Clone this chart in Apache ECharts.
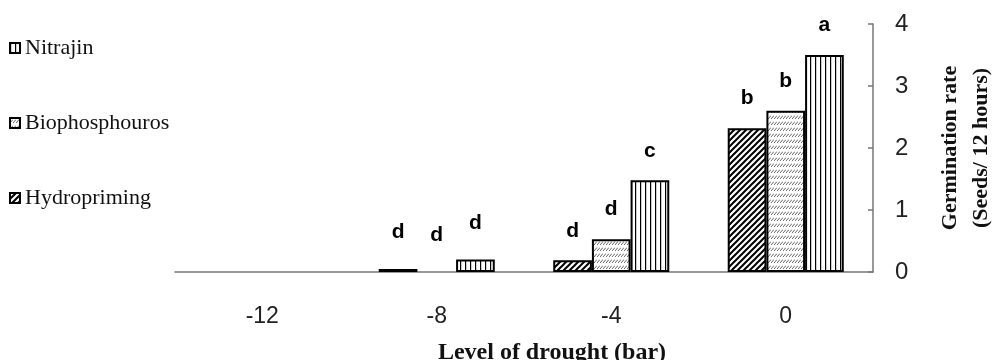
<!DOCTYPE html>
<html>
<head>
<meta charset="utf-8">
<script src="https://cdn.jsdelivr.net/npm/echarts@6/dist/echarts.min.js"></script>
<style>
  html, body { margin: 0; padding: 0; background: #fff; }
  #chart { width: 992px; height: 360px; }
</style>
</head>
<body>
<div id="chart"></div>
<script>
// Drought levels (bar) on the category axis
const droughtLevels = ['-12', '-8', '-4', '0'];

// Germination rate (seeds / 12 hours) per treatment
const hydropriming = [0, 0.05, 0.19, 2.32];
const biophosphouros = [0, 0, 0.53, 2.6];
const nitrajin = [0, 0.2, 1.48, 3.5];

// Mean-separation letters shown above each bar
const hydroLetters = ['', 'd', 'd', 'b'];
const bioLetters = ['', 'd', 'd', 'b'];
const nitrajinLetters = ['', 'd', 'c', 'a'];

// Y axis ticks
const yTicks = [0, 1, 2, 3, 4];

// ---- hatch fills ----
function makeTile(w, h, draw) {
  const c = document.createElement('canvas');
  c.width = w; c.height = h;
  const ctx = c.getContext('2d');
  ctx.fillStyle = '#ffffff';
  ctx.fillRect(0, 0, w, h);
  draw(ctx);
  return c;
}
const verticalLines = makeTile(5, 5, ctx => {
  ctx.fillStyle = '#000';
  ctx.fillRect(0, 0, 1.2, 5);
});
const fineSlashes = makeTile(3, 6, ctx => {
  ctx.strokeStyle = '#555';
  ctx.lineWidth = 0.9;
  ctx.beginPath();
  ctx.moveTo(0, 5);
  ctx.lineTo(3, 1.5);
  ctx.stroke();
});
const boldDiagonals = makeTile(6, 6, ctx => {
  ctx.strokeStyle = '#000';
  ctx.lineWidth = 2;
  ctx.beginPath();
  ctx.moveTo(0, 6); ctx.lineTo(6, 0);
  ctx.moveTo(-1, 1); ctx.lineTo(1, -1);
  ctx.moveTo(5, 7); ctx.lineTo(7, 5);
  ctx.stroke();
});

function barSeries(name, values, letters, tile) {
  return {
    name: name,
    type: 'bar',
    barGap: '0%',
    barCategoryGap: '33.5%',
    itemStyle: {
      color: { image: tile, repeat: 'repeat' },
      borderColor: '#000',
      borderWidth: 2
    },
    label: {
      show: true,
      position: 'top',
      fontFamily: 'Liberation Sans',
      fontWeight: 'bold',
      fontSize: 21,
      color: '#000',
      formatter: p => letters[p.dataIndex]
    },
    data: values.map((v, i) => ({
      value: v,
      // a zero-height bar leaves only the baseline visible
      itemStyle: v === 0 ? { borderWidth: 0 } : undefined,
      label: { distance: droughtLevels[i] === '-8' ? 26 : 19 }
    }))
  };
}

const chart = echarts.init(document.getElementById('chart'), null, { renderer: 'canvas' });
chart.setOption({
  animation: false,
  backgroundColor: '#fff',
  grid: {
    left: 175, right: 119, top: 24, bottom: 88,
    containLabel: false, outerBoundsMode: 'none'
  },
  legend: {
    orient: 'vertical',
    left: 4,
    top: 32,
    itemGap: 53,
    itemWidth: 10,
    itemHeight: 10,
    icon: 'rect',
    data: ['Nitrajin', 'Biophosphouros', 'Hydropriming'],
    itemStyle: { borderColor: '#000', borderWidth: 2 },
    textStyle: { fontFamily: 'Liberation Serif', fontSize: 22, color: '#111' }
  },
  xAxis: {
    type: 'category',
    data: droughtLevels,
    name: 'Level of drought (bar)',
    nameLocation: 'middle',
    nameGap: 69,
    nameTextStyle: {
      fontFamily: 'Liberation Serif', fontWeight: 'bold', fontSize: 24,
      color: '#111', padding: [0, 0, 0, 56]
    },
    axisLine: { lineStyle: { color: '#777', width: 1.5 } },
    axisTick: { show: false },
    axisLabel: {
      margin: 33, fontFamily: 'Liberation Sans', fontSize: 23, color: '#222'
    }
  },
  yAxis: {
    type: 'value',
    position: 'right',
    min: yTicks[0],
    max: yTicks[yTicks.length - 1],
    interval: 1,
    name: 'Germination rate\n(Seeds/ 12 hours)',
    nameLocation: 'middle',
    nameRotate: 90,
    nameGap: 62,
    nameTextStyle: {
      fontFamily: 'Liberation Serif', fontWeight: 'bold', fontSize: 22,
      color: '#111', lineHeight: 31
    },
    axisLine: { show: true, lineStyle: { color: '#777', width: 1.5 } },
    axisTick: { show: true, inside: true, length: 5, lineStyle: { color: '#777', width: 1.5 } },
    splitLine: { show: false },
    axisLabel: {
      margin: 22, fontFamily: 'Liberation Sans', fontSize: 24, color: '#222'
    }
  },
  series: [
    barSeries('Hydropriming', hydropriming, hydroLetters, boldDiagonals),
    barSeries('Biophosphouros', biophosphouros, bioLetters, fineSlashes),
    barSeries('Nitrajin', nitrajin, nitrajinLetters, verticalLines)
  ]
});
</script>
</body>
</html>
